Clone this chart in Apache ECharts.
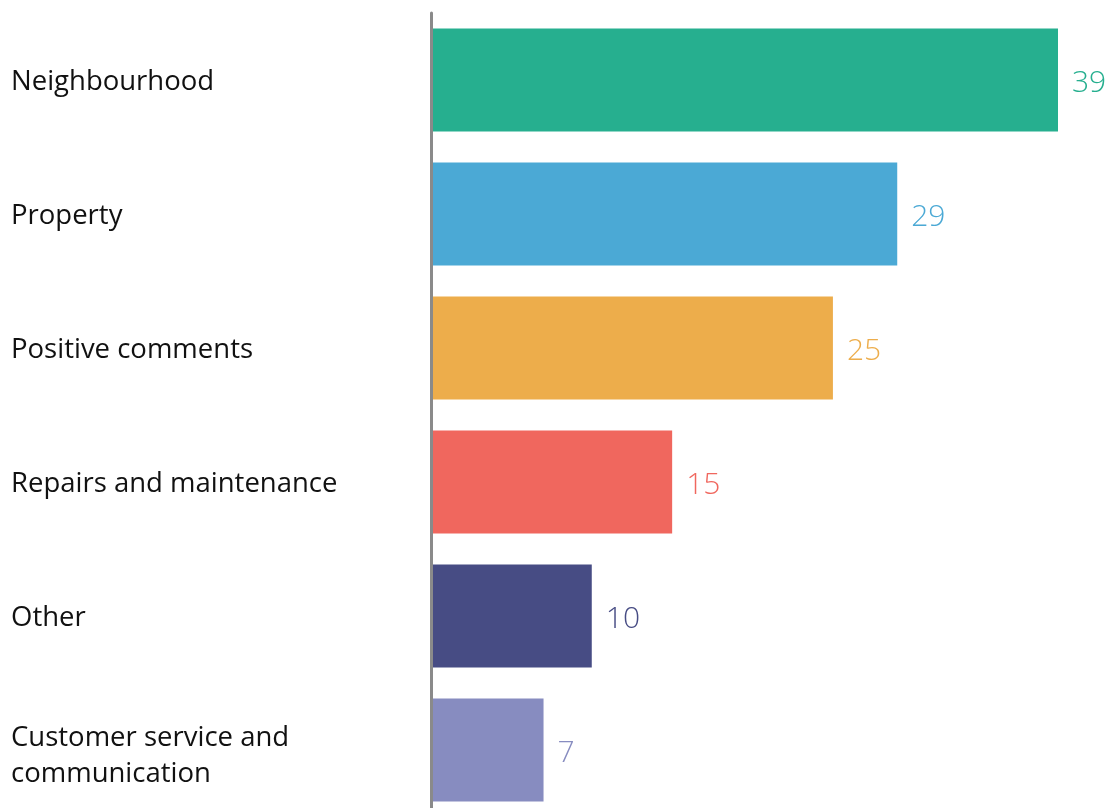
<!DOCTYPE html>
<html>
<head>
<meta charset="utf-8">
<script src="https://cdn.jsdelivr.net/npm/echarts@6/dist/echarts.min.js"></script>
<style>
  html, body { margin: 0; padding: 0; background: #ffffff; overflow: hidden; }
  #chart { width: 1112px; height: 822px; }
</style>
</head>
<body>
<div id="chart"></div>
<script>
// Feedback topics, top to bottom
const categories = [
  'Neighbourhood',
  'Property',
  'Positive comments',
  'Repairs and maintenance',
  'Other',
  'Customer service and communication'
];
const counts = [39, 29, 25, 15, 10, 7];
const barColors = ['#26AF8F', '#4BA9D5', '#EDAD4B', '#F0675E', '#474C84', '#878CC0'];

const chart = echarts.init(document.getElementById('chart'), null, { renderer: 'canvas' });

const labelText = {
  lineHeight: 36,
  color: '#111111',
  fontFamily: 'Open Sans',
  fontSize: 27.5
};

chart.setOption({
  backgroundColor: '#ffffff',
  animation: false,
  grid: { left: 431, right: 54, top: 13, height: 804, containLabel: false },
  xAxis: {
    type: 'value',
    min: 0,
    max: 39,
    show: false
  },
  yAxis: {
    type: 'category',
    inverse: true,
    data: categories,
    z: 5,
    axisLine: { show: true, lineStyle: { color: '#8a8a8a', width: 3 } },
    axisTick: { show: false },
    axisLabel: Object.assign({
      align: 'left',
      margin: 420,
      width: 335,
      overflow: 'break',
      // wrapped labels sit a little lower than single-line ones
      formatter: function (v) {
        return (v.length > 25 ? '{m|' : '{t|') + v + '}';
      },
      rich: {
        t: Object.assign({ padding: [5, 0, 0, 0] }, labelText),
        m: Object.assign({ padding: [13, 0, 0, 0] }, labelText)
      }
    }, labelText)
  },
  series: [{
    type: 'bar',
    barCategoryGap: '23%',
    data: counts.map((v, i) => ({
      value: v,
      itemStyle: { color: barColors[i] },
      label: { color: barColors[i] }
    })),
    label: {
      show: true,
      position: 'right',
      distance: 14,
      offset: [0, 3],
      fontFamily: 'Open Sans',
      fontWeight: 300,
      fontSize: 30
    }
  }]
});
</script>
</body>
</html>
